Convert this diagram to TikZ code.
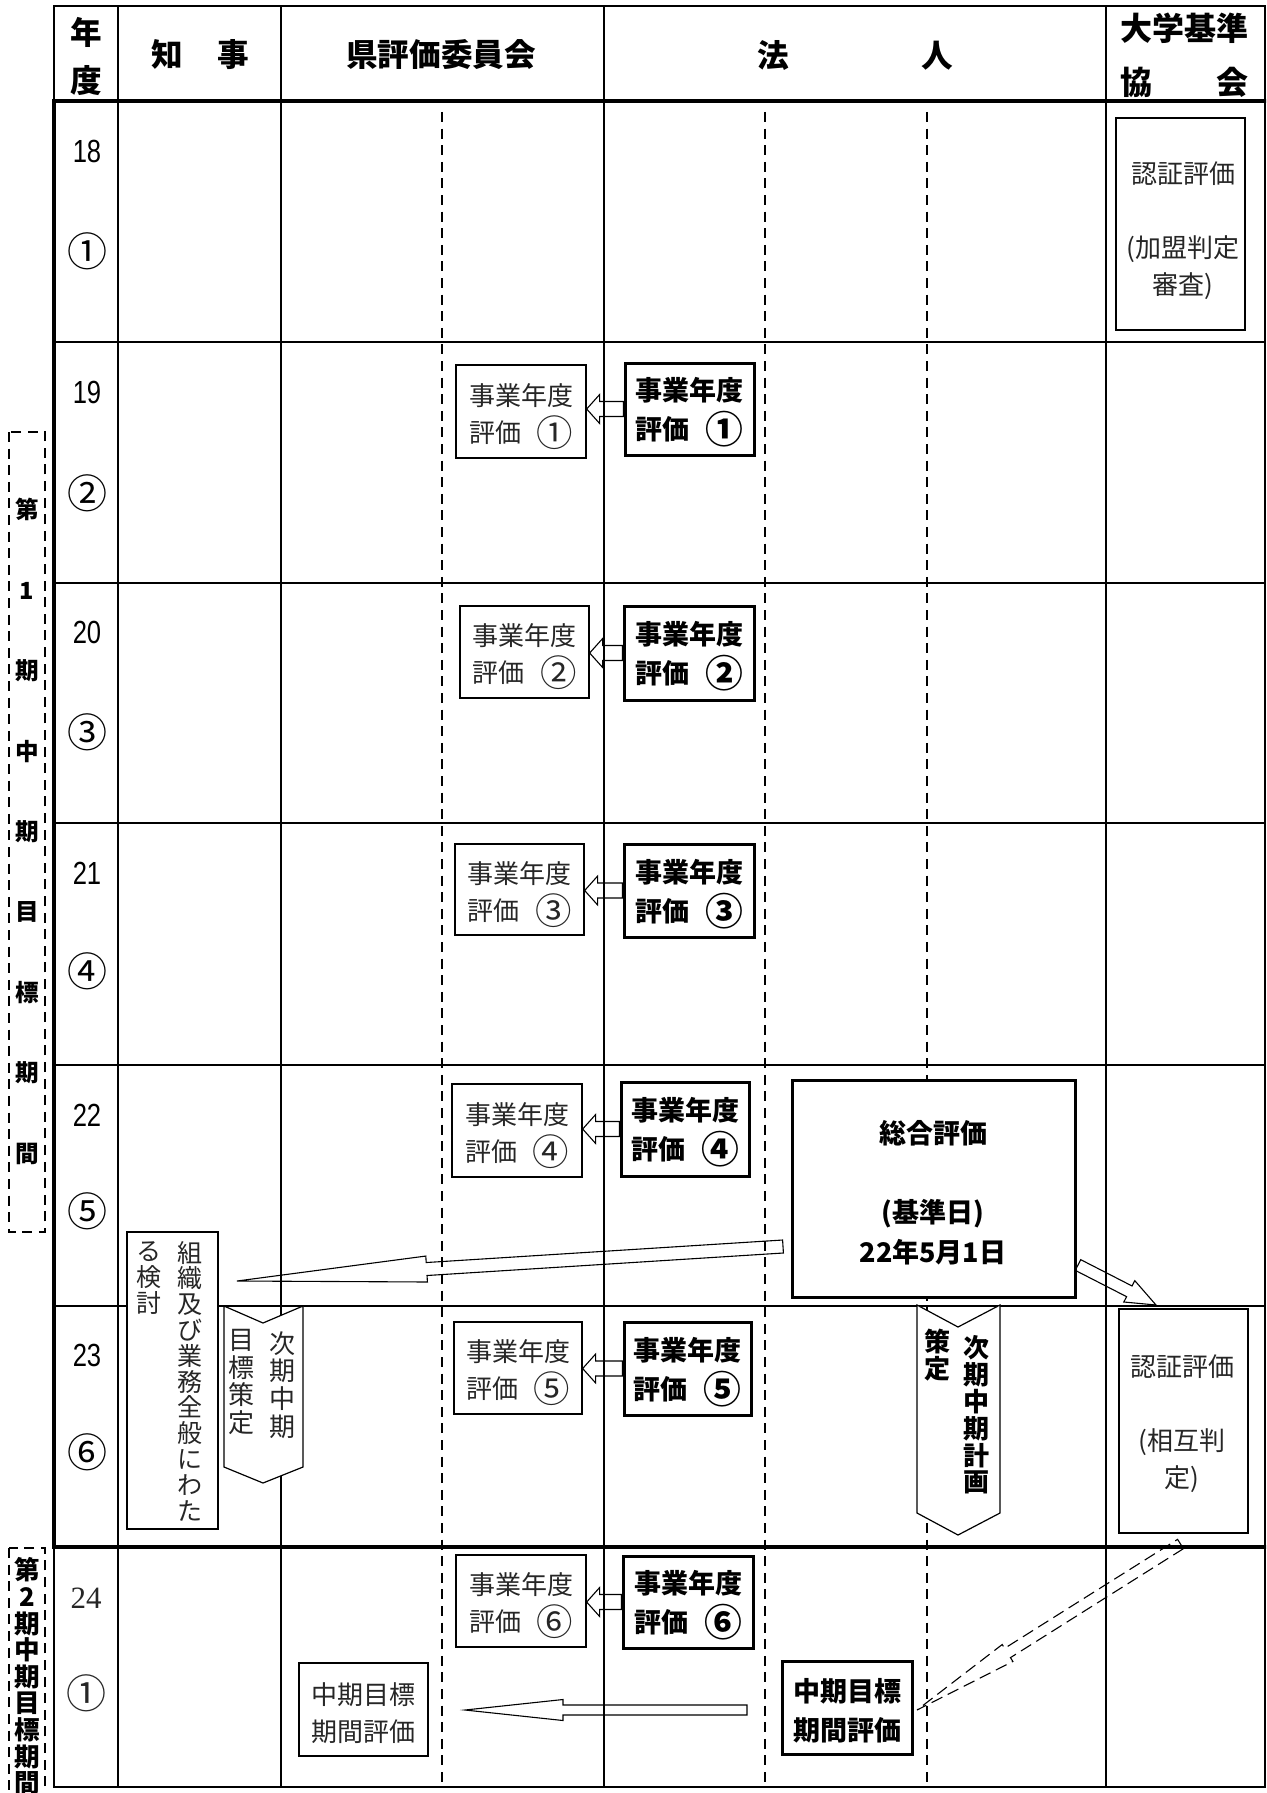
\documentclass[tikz,border=0pt]{standalone}
\usepackage{fontspec}
\usepackage{graphicx}
\newfontfamily\jp{Noto Sans CJK JP}
\newfontfamily\narrowsans[FakeStretch=0.8]{Liberation Sans}
\newfontfamily\serifnum{Liberation Serif}
\usetikzlibrary{calc,fit}
% enlarged circled number, kept on the CJK centre line
\newcommand\cnum[1]{\raisebox{-0.15em}{\scalebox{1.4}{#1}}}
% hollow block arrow: [options]{tail}{tip}{half shaft}{half head}{head length}
\newcommand\blockarrow[6][]{%
  \coordinate (bahead) at ($(#3)!#6!(#2)$);
  \draw[#1] ($(#2)!#4!90:(#3)$) -- ($(bahead)!#4!90:(#3)$) -- ($(bahead)!#5!90:(#3)$)
    -- (#3) -- ($(bahead)!#5!-90:(#3)$) -- ($(bahead)!#4!-90:(#3)$)
    -- ($(#2)!#4!-90:(#3)$) -- cycle;}
\begin{document}
\begin{tikzpicture}[x=0.5pt,y=-0.5pt,
  tline/.style={line width=0.8pt, line cap=rect},
  thickline/.style={line width=1.6pt, line cap=rect},
  dline/.style={line width=0.75pt, dash pattern=on 5pt off 3.3pt},
  cbox/.style={draw, line width=0.65pt, fill=white, inner sep=0pt},
  hbox/.style={draw, line width=1.5pt, fill=white, inner sep=0pt},
  nbox/.style={draw, line width=0.8pt, fill=white, inner sep=0pt},
  ctext/.style={font=\jp\fontsize{13}{18.5}\selectfont, text=black!85, align=center, inner sep=0pt},
  htext/.style={font=\jp\bfseries\fontsize{13.5}{19.5}\selectfont, align=center, inner sep=0pt},
  hdr/.style={font=\jp\bfseries\fontsize{15.8}{27}\selectfont, align=center, inner sep=0pt},
  rownum/.style={font=\narrowsans\fontsize{16}{16}\selectfont, inner sep=0pt},
  rowcirc/.style={font=\jp\fontsize{20}{20}\selectfont, inner sep=0pt},
  arr/.style={line width=0.55pt, line join=miter},
  chev/.style={line width=0.6pt, fill=white, line join=miter},
  vtext/.style={align=center, inner sep=0pt, execute at begin node={\lineskiplimit=-20pt}},
]
\useasboundingbox (0,0) rectangle (1266,1793);
\clip (0,0) rectangle (1266,1793);
\fill[white] (0,0) rectangle (1266,1793);

% ---------- table grid ----------
\draw[tline] (54,6) -- (1265,6);
\draw[tline] (54,6) -- (54,101);
\foreach \x in {118,281,604,1106,1265} \draw[tline] (\x,6) -- (\x,1787);
\foreach \y in {342,583,823,1065,1306} \draw[tline] (54,\y) -- (1265,\y);
\draw[tline] (54,1787) -- (1265,1787);
\draw[tline] (54,1547) -- (54,1787);
\draw[thickline] (54,101) -- (1265,101);
\draw[thickline] (54,1547) -- (1265,1547);
\draw[thickline] (54,101) -- (54,1547);
\foreach \x in {442,765,927} \draw[dline] (\x,112) -- (\x,1787);

% ---------- period labels ----------
\draw[dline] (9,432) rectangle (45,1232);
\draw[dline] (9,1548) rectangle (45,1840);
\node[vtext, font=\jp\bfseries\fontsize{11.8}{40.2}\selectfont] (per1) at (27,831.5) {第\\1\\期\\中\\期\\目\\標\\期\\間};
\node[vtext, font=\jp\bfseries\fontsize{12.8}{13.3}\selectfont] (per2) at (27,1676.5) {第\\2\\期\\中\\期\\目\\標\\期\\間};

% ---------- header ----------
\node[hdr, font=\jp\bfseries\fontsize{15.8}{24}\selectfont] (hnendo) at (86,56) {年\\度};
\node[hdr] (hchiji) at (200,55) {知\hspace{1.1em}事};
\node[hdr] (hken) at (441,55) {県評価委員会};
\node[hdr] (hhojin) at (855,55) {法\hspace{4.2em}人};
\node[hdr, font=\jp\bfseries\fontsize{16}{27}\selectfont] (hdaigaku) at (1184,55) {大学基準\\\makebox[4em]{協\hfill 会}};

% ---------- year labels ----------
\node[rownum] (y18) at (87,151) {18};
\node[rowcirc] (k18) at (87,251) {①};
\node[rownum] (y19) at (87,392) {19};
\node[rowcirc] (k19) at (87,493) {②};
\node[rownum] (y20) at (87,632) {20};
\node[rowcirc] (k20) at (87,732) {③};
\node[rownum] (y21) at (87,873) {21};
\node[rowcirc] (k21) at (87,971) {④};
\node[rownum] (y22) at (87,1115) {22};
\node[rowcirc] (k22) at (87,1211) {⑤};
\node[rownum] (y23) at (87,1355) {23};
\node[rowcirc] (k23) at (87,1452) {⑥};
\node[font=\serifnum\fontsize{15.5}{15.5}\selectfont, inner sep=0pt, text=black!85] (y24) at (86,1598) {24};
\node[rowcirc, text=black!85] (k24) at (86,1693) {①};

% ---------- chevrons (次期中期目標策定 / 次期中期計画策定) ----------
\draw[chev] (224,1306) -- (263,1323) -- (303,1306) -- (303,1467) -- (263,1483) -- (224,1467) -- cycle;
\draw[chev] (917,1305) -- (958,1327) -- (1000,1305) -- (1000,1513) -- (958,1535) -- (917,1513) -- cycle;
\node[vtext, font=\jp\fontsize{13}{13.85}\selectfont, text=black!85] (chA1) at (282,1384.75) {次\\期\\中\\期};
\node[vtext, font=\jp\fontsize{13}{13.85}\selectfont, text=black!85] (chA2) at (241,1382) {目\\標\\策\\定};
\node[vtext, font=\jp\bfseries\fontsize{13}{13.4}\selectfont] (chB1) at (976,1415) {次\\期\\中\\期\\計\\画};
\node[vtext, font=\jp\bfseries\fontsize{13}{13.4}\selectfont] (chB2) at (937,1355) {策\\定};

% ---------- 組織及び業務全般にわたる検討 ----------
\node[draw, line width=0.7pt, fill=white, inner sep=0pt, fit={(127,1232) (218,1529)}] (soshiki) {};
\node[vtext, font=\jp\fontsize{12.5}{12.9}\selectfont, text=black!85] (so1) at (190,1381) {組\\織\\及\\び\\業\\務\\全\\般\\に\\わ\\た};
\node[vtext, font=\jp\fontsize{12.5}{12.9}\selectfont, text=black!85] (so2) at (149,1278) {る\\検\\討};

% ---------- committee boxes ----------
\node[cbox, fit={(456,365) (586,458)}] (c19) {};
\node[cbox, fit={(460,606) (589,698)}] (c20) {};
\node[cbox, fit={(455,844) (584,935)}] (c21) {};
\node[cbox, fit={(452,1084) (582,1177)}] (c22) {};
\node[cbox, fit={(454,1322) (582,1414)}] (c23) {};
\node[cbox, fit={(456,1555) (586,1647)}] (c24) {};
\node[cbox, fit={(299,1663) (428,1756)}] (cmid) {};
\node[ctext] (tc19) at ($(c19.center)+(0,5)$) {事業年度\\\makebox[4em]{評価\hfill\cnum{①}}};
\node[ctext] (tc20) at ($(c20.center)+(0,5)$) {事業年度\\\makebox[4em]{評価\hfill\cnum{②}}};
\node[ctext] (tc21) at ($(c21.center)+(0,5)$) {事業年度\\\makebox[4em]{評価\hfill\cnum{③}}};
\node[ctext] (tc22) at ($(c22.center)+(0,5)$) {事業年度\\\makebox[4em]{評価\hfill\cnum{④}}};
\node[ctext] (tc23) at ($(c23.center)+(0,5)$) {事業年度\\\makebox[4em]{評価\hfill\cnum{⑤}}};
\node[ctext] (tc24) at ($(c24.center)+(0,5)$) {事業年度\\\makebox[4em]{評価\hfill\cnum{⑥}}};
\node[ctext] (tcmid) at ($(cmid.center)+(0,4)$) {中期目標\\期間評価};

% ---------- 法人 boxes ----------
\node[hbox, fit={(625,363) (754,455)}] (h19) {};
\node[hbox, fit={(624,606) (754,700)}] (h20) {};
\node[hbox, fit={(624,844) (754,937)}] (h21) {};
\node[hbox, fit={(621,1082) (749,1176)}] (h22) {};
\node[hbox, fit={(624,1322) (751,1415)}] (h23) {};
\node[hbox, fit={(623,1556) (753,1648)}] (h24) {};
\node[hbox, fit={(782,1661) (912,1754)}] (hmid) {};
\node[hbox, fit={(792,1080) (1075,1297)}] (sogo) {};
\node[htext] (th19) at ($(h19.center)+(0,3.5)$) {事業年度\\\makebox[4em]{評価\hfill\cnum{①}}};
\node[htext] (th20) at ($(h20.center)+(0,3.5)$) {事業年度\\\makebox[4em]{評価\hfill\cnum{②}}};
\node[htext] (th21) at ($(h21.center)+(0,3.5)$) {事業年度\\\makebox[4em]{評価\hfill\cnum{③}}};
\node[htext] (th22) at ($(h22.center)+(0,3.5)$) {事業年度\\\makebox[4em]{評価\hfill\cnum{④}}};
\node[htext] (th23) at ($(h23.center)+(0,3.5)$) {事業年度\\\makebox[4em]{評価\hfill\cnum{⑤}}};
\node[htext] (th24) at ($(h24.center)+(0,3.5)$) {事業年度\\\makebox[4em]{評価\hfill\cnum{⑥}}};
\node[htext] (thmid) at ($(hmid.center)+(0,3.5)$) {中期目標\\期間評価};
\node[htext, font=\jp\bfseries\fontsize{13.5}{19.8}\selectfont] (tsogo) at (933,1192.75) {総合評価\\\mbox{}\\(基準日)\\22年5月1日};

% ---------- 大学基準協会 boxes ----------
\node[nbox, fit={(1116,118) (1245,330)}] (n1) {};
\node[nbox, fit={(1119,1309) (1248,1533)}] (n2) {};
\node[ctext] (tn1) at (1183,231) {認証評価\\\mbox{}\\(加盟判定\\審査)};
\node[ctext] (tn2) at (1182,1424) {認証評価\\\mbox{}\\(相互判\\定)};

% ---------- arrows ----------
\coordinate (a19) at (h19.west -| c19.east);
\coordinate (a20) at (h20.west -| c20.east);
\coordinate (a21) at (h21.west -| c21.east);
\coordinate (a22) at (h22.west -| c22.east);
\coordinate (a23) at (h23.west -| c23.east);
\coordinate (a24) at (h24.west -| c24.east);
\blockarrow[arr]{h19.west}{a19}{3.75pt}{7.25pt}{6.5pt}
\blockarrow[arr]{h20.west}{a20}{3.75pt}{7.25pt}{6.5pt}
\blockarrow[arr]{h21.west}{a21}{3.75pt}{7.25pt}{6.5pt}
\blockarrow[arr]{h22.west}{a22}{3.75pt}{7.25pt}{6.5pt}
\blockarrow[arr]{h23.west}{a23}{3.75pt}{7.25pt}{6.5pt}
\blockarrow[arr]{h24.west}{a24}{3.75pt}{7.25pt}{6.5pt}

\coordinate (la1) at (783,1246.5);
\coordinate (la2) at (237,1281);
\blockarrow[arr]{la1}{la2}{3.25pt}{6.5pt}{95pt}

\coordinate (da1) at (1078,1265);
\coordinate (da2) at (1156,1305);
\blockarrow[arr]{da1}{da2}{3pt}{6pt}{15pt}

\coordinate (ba1) at (747,1710);
\coordinate (ba2) at (465,1710);
\blockarrow[arr]{ba1}{ba2}{2.5pt}{5.25pt}{49pt}

\coordinate (xa1) at (1180.5,1544);
\coordinate (xa2) at (917,1710);
\blockarrow[arr, dash pattern=on 6pt off 3pt]{xa1}{xa2}{2.75pt}{5pt}{53.5pt}
\end{tikzpicture}
\end{document}
